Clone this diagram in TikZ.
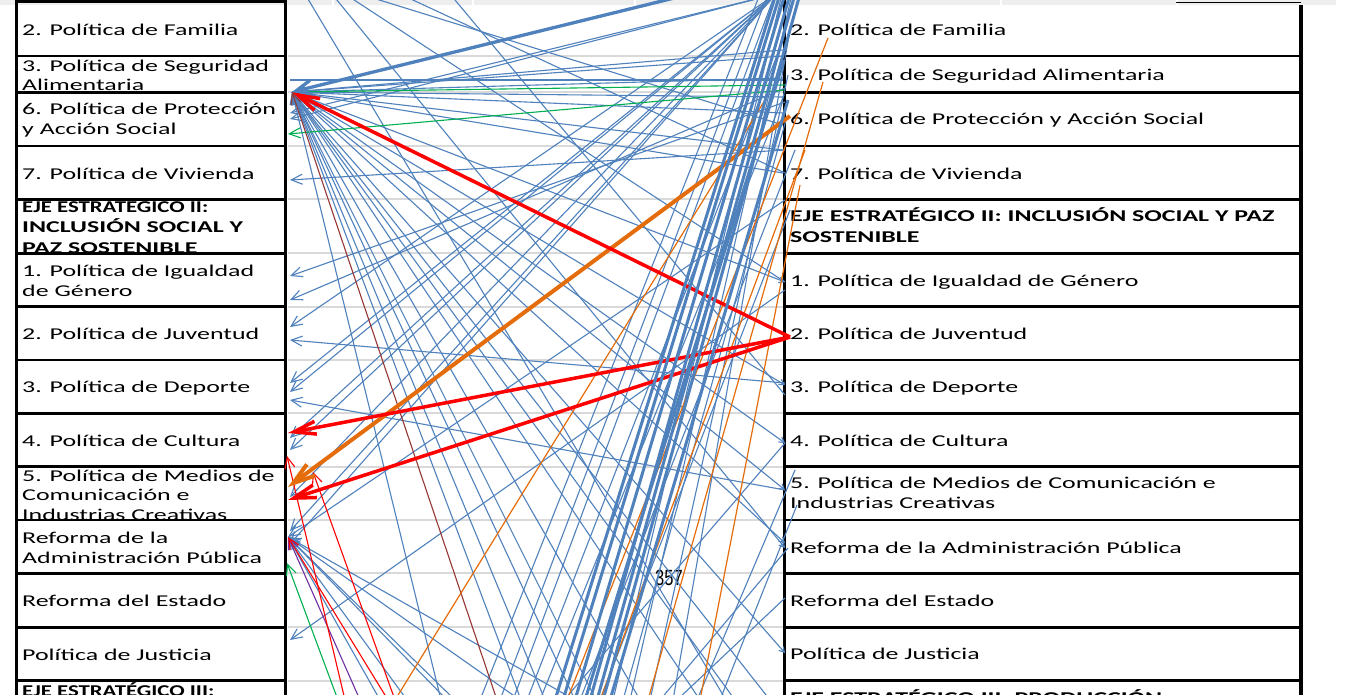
\documentclass[tikz,border=0pt]{standalone}
\usepackage{fontspec}
\setmainfont{Carlito}[FakeStretch=1.57]
\newfontfamily\numfont{Liberation Sans}[FakeStretch=0.75]
\usetikzlibrary{arrows.meta}
\definecolor{lblue}{RGB}{79,129,189}
\definecolor{lred}{RGB}{255,0,0}
\definecolor{lorange}{RGB}{228,108,10}
\definecolor{lgreen}{RGB}{0,176,80}
\definecolor{lbrown}{RGB}{149,55,53}
\definecolor{lpurple}{RGB}{112,48,160}
\definecolor{gridgray}{RGB}{217,217,217}
\definecolor{bandgray}{RGB}{238,238,238}
\tikzset{
  txt/.style={anchor=base west, inner sep=0pt, font=\fontsize{16.5}{20}\selectfont},
  btxt/.style={anchor=base west, inner sep=0pt, font=\fontsize{16.5}{20}\selectfont\bfseries},
  vborder/.style={draw=black, line width=3.3pt},
  hborder/.style={draw=black, line width=2.8pt},
  gridline/.style={draw=gridgray, line width=2pt},
  bl/.style={draw=lblue, line width=1.1pt},
  bla/.style={bl, -{Straight Barb[length=11pt,width=10pt]}},
  blsa/.style={bl, -{Straight Barb[length=5pt,width=6pt]}},
  thinc/.style={line width=1.1pt, -{Straight Barb[length=11pt,width=10pt]}},
  orl/.style={draw=lorange, line width=1.2pt},
  thickbl/.style={draw=lblue, line width=3pt},
  thickbla/.style={draw=lblue, line width=3.3pt, -{Straight Barb[length=16pt,width=14pt]}},
  thickred/.style={draw=lred, line width=3.5pt, -{Straight Barb[length=22pt,width=13pt]}},
  thickor/.style={draw=lorange, line width=4pt, -{Straight Barb[length=22pt,width=14pt]}}
}
\begin{document}
\begin{tikzpicture}[x=1pt,y=-1pt]
\useasboundingbox (0,0) rectangle (1346,695);
\clip (0,0) rectangle (1346,695);
\fill[white] (0,0) rectangle (1346,695);
% top band of spreadsheet cells
\fill[bandgray] (0,0) rectangle (1336,5);
\foreach \x in {332,472,634,1000,1176} \fill[white] (\x,0) rectangle (\x+2,5);
% grid lines between the columns
\foreach \y in {56,92.3,146,199.3,253.3,306.7,360,413.3,466.7,520,573.3,627.3,680.7}
  \draw[gridline] (288,\y) -- (783,\y);
% left column texts
\node[txt] (l1) at (22,35.7) {2. Política de Familia};
\node[txt] (l2a) at (22,71.5) {3. Política de Seguridad};
\node[txt] (l2b) at (22,91) {Alimentaria};
\node[txt] (l3a) at (22,115) {6. Política de Protección};
\node[txt] (l3b) at (22,135) {y Acción Social};
\node[txt] (l4) at (22,180) {7. Política de Vivienda};
\node[btxt] (l5a) at (22,213) {\scalebox{0.88}[1]{EJE ESTRATÉGICO II:}};
\node[btxt] (l5b) at (22,233) {INCLUSIÓN SOCIAL Y};
\node[btxt] (l5c) at (22,253) {PAZ SOSTENIBLE};
\node[txt] (l6a) at (22,276) {1. Política de Igualdad};
\node[txt] (l6b) at (22,296) {de Género};
\node[txt] (l7) at (22,339.5) {2. Política de Juventud};
\node[txt] (l8) at (22,392.5) {3. Política de Deporte};
\node[txt] (l9) at (22,446) {4. Política de Cultura};
\node[txt] (l10a) at (22,481) {5. Política de Medios de};
\node[txt] (l10b) at (22,500.5) {Comunicación e};
\node[txt] (l10c) at (22,520) {Industrias Creativas};
\node[txt] (l11a) at (22,543) {Reforma de la};
\node[txt] (l11b) at (22,563) {Administración Pública};
\node[txt] (l12) at (22,606) {Reforma del Estado};
\node[txt] (l13) at (22,660) {Política de Justicia};
\node[btxt] (l14) at (22,696) {\scalebox{0.88}[1]{EJE ESTRATÉGICO III:}};
% right column texts
\node[txt] (r1) at (790,35.5) {2. Política de Familia};
\node[txt] (r2) at (790,81) {3. Política de Seguridad Alimentaria};
\node[txt] (r3) at (790,125) {6. Política de Protección y Acción Social};
\node[txt] (r4) at (790,179.5) {7. Política de Vivienda};
\node[btxt] (r5a) at (790,222) {EJE ESTRATÉGICO II: INCLUSIÓN SOCIAL Y PAZ};
\node[btxt] (r5b) at (790,242) {SOSTENIBLE};
\node[txt] (r6) at (790,286) {1. Política de Igualdad de Género};
\node[txt] (r7) at (790,339.5) {2. Política de Juventud};
\node[txt] (r8) at (790,392.5) {3. Política de Deporte};
\node[txt] (r9) at (790,446) {4. Política de Cultura};
\node[txt] (r10a) at (790,488.5) {5. Política de Medios de Comunicación e};
\node[txt] (r10b) at (790,508.5) {Industrias Creativas};
\node[txt] (r11) at (790,553) {Reforma de la Administración Pública};
\node[txt] (r12) at (790,606) {Reforma del Estado};
\node[txt] (r13) at (790,659.5) {Política de Justicia};
\node[btxt] (r14) at (790,703) {EJE ESTRATÉGICO III: PRODUCCIÓN};
% borders
\draw[hborder] (16.5,1.5) -- (285.8,1.5);
\draw[draw=black, line width=1.6pt] (1176,2.5) -- (1301,2.5);
\foreach \y in {56,92.3,146,199.3,253.3,306.7,360,413.3,466.7,520,573.3,627.3,680.7} {
  \draw[hborder] (16.5,\y) -- (285.8,\y);
  \draw[hborder] (784.3,\y) -- (1301,\y);
}
\draw[vborder] (16.5,0) -- (16.5,695);
\draw[vborder] (285.8,0) -- (285.8,695);
\draw[vborder] (784.3,0) -- (784.3,695);
\draw[vborder] (1301,5) -- (1301,695);
% page number
\node[inner sep=0pt, anchor=base west, font=\numfont\fontsize{22}{22}\selectfont] (pg) at (655,585) {357};
% hubs
\coordinate (hubL) at (292,92);
\coordinate (hubL2) at (288,537);
\coordinate (hubTR) at (776,-6);
\coordinate (hubR) at (790,337);
% thin blue lines from the top-right hub to the left column
\foreach \y in {113,119,327,383,392,438,450,497,531,544}
  \draw[bla] (hubTR) -- (290,\y);
% thin blue lines from right boxes to the left column
\foreach \ya/\yb in {150/180,102/276,88/300,490/400,383/340,290/640}
  \draw[bla] (785,\ya) -- (290,\yb);
\draw[bla] (785,200) -- (hubL2);
% lines arriving at the left hub
\foreach \y in {50,56,78,97,113,150,173}
  \draw[bla] (783,\y) -- (hubL);
\foreach \x in {441,521,545,575,596,640,700,735,770}
  \draw[bla] (\x,700) -- (hubL);
\foreach \y in {282,385,443,490,543,653}
  \draw[blsa] (hubL) -- (785,\y);
% lines arriving at the second left hub
\foreach \x in {380,407,447,455,520,575}
  \draw[bla] (\x,700) -- (hubL2);
% other thin blue lines
\foreach \ax/\ay/\bx/\by in {290/80/783/80, 400/-6/785/173, 360/-6/783/125, 305/-6/726/700,
   345/-6/785/282, 450/-6/785/395,
   677/700/785/598, 720/700/797/505, 564/700/785/443, 660/700/788/548, 697/700/795/470,
   480/700/760/-6, 500/700/768/-6, 513/700/775/-6, 527/700/783/40, 540/700/784/95,
   613/700/782/-6, 623/700/786/120, 650/700/788/75, 673/700/790/30, 630/700/792/-6,
   580/700/795/150, 600/700/790/210}
  \draw[bl] (\ax,\ay) -- (\bx,\by);
\draw[blsa] (332,-6) -- (785,548);
% coloured thin arrows
\draw[thinc, draw=lgreen] (785,85) -- (hubL);
\draw[thinc, draw=lgreen] (785,90) -- (288,134);
\draw[thinc, draw=lgreen] (338,700) -- (287,563);
\draw[thinc, draw=lbrown] (497,700) -- (hubL);
\draw[thinc, draw=lpurple] (360,700) -- (hubL2);
\draw[thinc, draw=lred] (388,700) -- (hubL2);
\draw[thinc, draw=lred] (345,700) -- (287,456);
\draw[thinc, draw=lred] (395,700) -- (313,472);
% orange thin lines
\foreach \ax/\bx/\by in {395/765/100, 567/828/38, 648/823/82, 600/805/150, 700/800/185}
  \draw[orl] (\ax,700) -- (\bx,\by);
% thick coloured arrows
\draw[thickor] (790,116) -- (288,487);
\draw[thickred] (hubR) -- (hubL);
\draw[thickred] (hubR) -- (288,433);
\draw[thickred] (hubR) -- (288,500);
% thick blue lines
\draw[thickbla] (780,-28) -- (hubL);
\foreach \ax/\bx/\by in {555/776/-6, 563/780/-6, 575/785/-6, 590/790/-6, 597/795/-6, 603/800/-6, 585/784/60, 610/788/100}
  \draw[thickbl] (\ax,700) -- (\bx,\by);
\end{tikzpicture}
\end{document}
